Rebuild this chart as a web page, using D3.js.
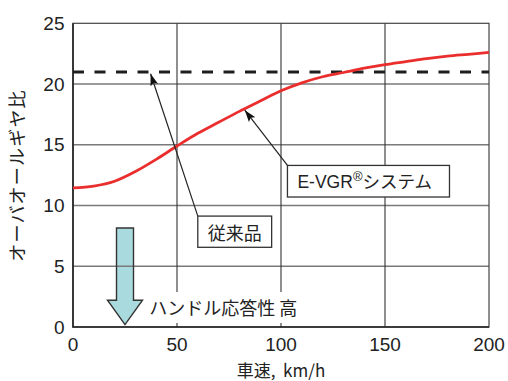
<!DOCTYPE html>
<html><head><meta charset="utf-8">
<script src="https://cdn.jsdelivr.net/npm/d3@7"></script>
<style>
html,body{margin:0;padding:0;background:#fff;}
svg{display:block;}
text{font-family:"Liberation Sans","Noto Sans CJK JP",Arial,sans-serif;fill:#222;}
.jp{font-family:"Noto Sans CJK JP","Liberation Sans",sans-serif;}
</style></head>
<body><svg id="c" width="508" height="381"></svg>
<script>
// ---- data ----
const speeds      = [0, 10, 20, 30, 40, 50, 60, 70, 80, 90, 100, 110, 120, 130, 140, 150, 160, 170, 180, 190, 200];
const evgrRatio   = [11.45, 11.6, 12.0, 12.8, 13.8, 14.9, 15.95, 16.85, 17.75, 18.6, 19.45, 20.1, 20.6, 20.95, 21.3, 21.6, 21.85, 22.1, 22.3, 22.45, 22.6];
const conventionalRatio = [21, 21];
const conventionalSpeeds = [0, 200];
const xTicks = [0, 50, 100, 150, 200];
const yTicks = [0, 5, 10, 15, 20, 25];
const xTitle = "車速,  km/h";
const yTitle = "オーバオールギヤ比";
const labelConventional = "従来品";
const labelEvgr = "E-VGR";
const labelEvgrSuffix = "システム";
const labelResponse = "ハンドル応答性 高";

// ---- layout ----
const svg = d3.select("#c");
const m = {l:73, r:19, t:23.3, b:54};
const W = 508, H = 381;
const x = d3.scaleLinear().domain([0,200]).range([m.l, W-m.r]);
const y = d3.scaleLinear().domain([0,25]).range([H-m.b, m.t]);

// big response arrow (drawn first, grid over it)
const ax = x(25), aTop = y(8.15), aNeck = y(2.2), aTip = y(0.2);
const arrowD = `M${ax-8.5},${aTop} L${ax+8.5},${aTop} L${ax+8.5},${aNeck} L${ax+17.5},${aNeck} L${ax},${aTip} L${ax-17.5},${aNeck} L${ax-8.5},${aNeck} Z`;
svg.append("path").attr("d", arrowD).attr("fill","#a9dadd");

// horizontal grid
svg.append("g").selectAll("line").data(yTicks.filter(d=>d>0 && d<25)).join("line")
  .attr("x1", x(0)).attr("x2", x(200))
  .attr("y1", d=>y(d)).attr("y2", d=>y(d))
  .attr("stroke","#7a7a7a").attr("stroke-width",1.4);
// vertical grid
svg.append("g").selectAll("line").data(xTicks.filter(d=>d>0 && d<200)).join("line")
  .attr("x1", d=>x(d)).attr("x2", d=>x(d))
  .attr("y1", y(0)).attr("y2", y(25))
  .attr("stroke","#333").attr("stroke-width",1.1);

// arrow outline on top
svg.append("path").attr("d", arrowD)
  .attr("fill","none").attr("stroke","#333").attr("stroke-width",1.4).attr("stroke-linejoin","miter");

// frame
svg.append("rect").attr("x", x(0)).attr("y", y(25)).attr("width", x(200)-x(0)).attr("height", y(0)-y(25))
  .attr("fill","none").attr("stroke","#444").attr("stroke-width",1.2);
svg.append("path").attr("d", `M${x(0)},${y(25)} V${y(0)} H${x(200)}`)
  .attr("fill","none").attr("stroke","#222").attr("stroke-width",1.6);

// response label with white background
svg.append("rect").attr("x", x(35.4)).attr("y", 292).attr("width", 160).attr("height", 31).attr("fill","#fff");
svg.append("text").attr("class","jp").attr("x", x(36.7)).attr("y", y(1.65))
  .attr("dominant-baseline","central").attr("font-size",18).text(labelResponse);

// conventional dashed line
svg.append("path").datum(conventionalSpeeds.map((s,i)=>[s,conventionalRatio[i]]))
  .attr("d", d3.line().x(d=>x(d[0])).y(d=>y(d[1])))
  .attr("fill","none").attr("stroke","#1e1e1e").attr("stroke-width",3).attr("stroke-dasharray","11,10.5");

// E-VGR curve
svg.append("path").datum(speeds.map((s,i)=>[s,evgrRatio[i]]))
  .attr("d", d3.line().x(d=>x(d[0])).y(d=>y(d[1])).curve(d3.curveMonotoneX))
  .attr("fill","none").attr("stroke","#ea2e2e").attr("stroke-width",2.8);

// callout arrows
const defs = svg.append("defs");
defs.append("marker").attr("id","ah").attr("viewBox","0 0 12 8").attr("refX",12).attr("refY",4)
  .attr("markerWidth",12).attr("markerHeight",8).attr("markerUnits","userSpaceOnUse").attr("orient","auto")
  .append("path").attr("d","M0,0 L12,4 L0,8 L2.5,4 Z").attr("fill","#111");
const callouts = [
  {from:[60, 9.13], to:[37.3, 20.85]},
  {from:[103.1, 13.3], to:[82.6, 17.85]}
];
svg.append("g").selectAll("line").data(callouts).join("line")
  .attr("x1", d=>x(d.from[0])).attr("y1", d=>y(d.from[1]))
  .attr("x2", d=>x(d.to[0])).attr("y2", d=>y(d.to[1]))
  .attr("stroke","#222").attr("stroke-width",1.2).attr("marker-end","url(#ah)");

// callout boxes
const b1 = {x0:60, x1:95.5, yT:9.13, yB:6.56};
svg.append("rect").attr("x", x(b1.x0)).attr("y", y(b1.yT)).attr("width", x(b1.x1)-x(b1.x0)).attr("height", y(b1.yB)-y(b1.yT))
  .attr("fill","#fff").attr("stroke","#333").attr("stroke-width",1.3);
svg.append("text").attr("class","jp").attr("x", (x(b1.x0)+x(b1.x1))/2).attr("y", (y(b1.yT)+y(b1.yB))/2)
  .attr("text-anchor","middle").attr("dominant-baseline","central").attr("font-size",18).text(labelConventional);

const b2 = {x0:103.1, x1:181, yT:13.3, yB:10.7};
svg.append("rect").attr("x", x(b2.x0)).attr("y", y(b2.yT)).attr("width", x(b2.x1)-x(b2.x0)).attr("height", y(b2.yB)-y(b2.yT))
  .attr("fill","#fff").attr("stroke","#333").attr("stroke-width",1.3);
const t2 = svg.append("text").attr("x", x(b2.x0)+10).attr("y", (y(b2.yT)+y(b2.yB))/2 + 6.5)
  .attr("font-size",17.5);
t2.append("tspan").text(labelEvgr);
t2.append("tspan").attr("font-size",13).attr("dy",-7).text("®");
t2.append("tspan").attr("class","jp").attr("font-size",17.5).attr("dy",7).text(labelEvgrSuffix);

// ticks labels
svg.append("g").selectAll("text").data(yTicks).join("text")
  .attr("x", 64.5).attr("y", d=>y(d)).attr("text-anchor","end").attr("dominant-baseline","central")
  .attr("font-size",19).text(d=>d);
svg.append("g").selectAll("text").data(xTicks).join("text")
  .attr("x", d=>x(d)).attr("y", 350.8).attr("text-anchor","middle")
  .attr("font-size",19).text(d=>d);

// axis titles
svg.append("text").attr("class","jp").attr("x", x(100)).attr("y", 377).attr("text-anchor","middle")
  .attr("font-size",17).attr("xml:space","preserve").style("white-space","pre").text(xTitle);
svg.append("text").attr("class","jp").attr("transform","translate(16,175.5) rotate(-90)")
  .attr("text-anchor","middle").attr("dominant-baseline","central")
  .attr("font-size",18).attr("letter-spacing",1.2).text(yTitle);
</script></body></html>
